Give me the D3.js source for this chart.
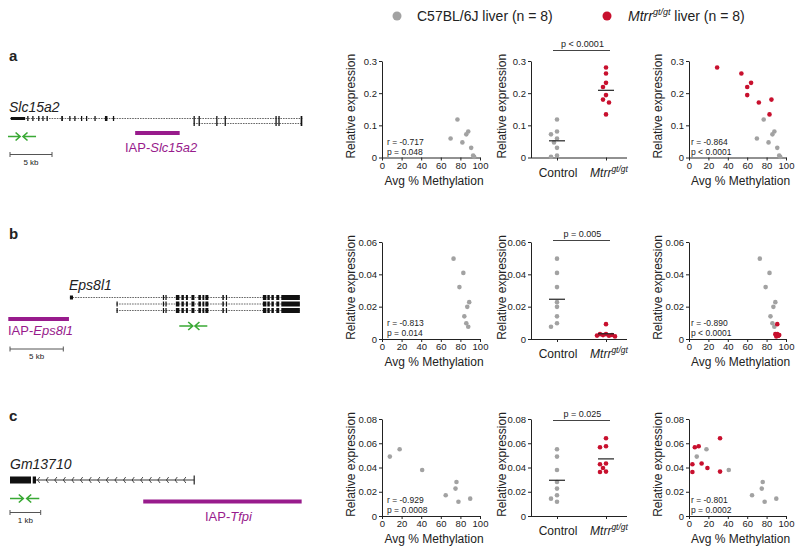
<!DOCTYPE html>
<html><head><meta charset="utf-8">
<script src="https://cdn.jsdelivr.net/npm/d3@7"></script>
<style>
body{margin:0;background:#fff}
svg{display:block;font-family:"Liberation Sans",Arial,Helvetica,sans-serif}
</style>
</head><body>
<svg id="c" width="800" height="554"></svg>
<script>
// ================= DATA =================
const groups = ["Control", "Mtrr"];
const methTicks = [0, 20, 40, 60, 80, 100];

// a: Slc15a2
const aCtrlMeth = [77, 88, 86, 70, 82, 91, 93, 94];
const aCtrlExpr = [0.118, 0.081, 0.072, 0.059, 0.047, 0.030, 0.006, 0.002];
const aMutMeth  = [29, 54, 64, 60, 60, 85, 72, 83];
const aMutExpr  = [0.280, 0.261, 0.232, 0.219, 0.194, 0.180, 0.171, 0.134];
const aYTicks   = [0, 0.1, 0.2, 0.3];
const aStatsCtrl = ["r = -0.717", "p = 0.048"];
const aStatsAll  = ["r = -0.864", "p < 0.0001"];
const aGroupP    = "p < 0.0001";

// b: Eps8l1
const bCtrlMeth = [73, 83, 79, 89, 87, 84, 86, 88];
const bCtrlExpr = [0.0497, 0.0409, 0.0321, 0.0228, 0.0199, 0.0140, 0.0097, 0.0076];
const bMutMeth  = [91, 89, 90, 91, 92, 93, 90, 92];
const bMutExpr  = [0.0092, 0.0030, 0.0025, 0.0030, 0.0020, 0.0024, 0.0016, 0.0021];
const bYTicks   = [0, 0.02, 0.04, 0.06];
const bStatsCtrl = ["r = -0.813", "p = 0.014"];
const bStatsAll  = ["r = -0.890", "p < 0.0001"];
const bGroupP    = "p = 0.005";

// c: Gm13710
const cCtrlMeth = [8, 18, 41, 76, 75, 65, 78, 90];
const cCtrlExpr = [0.049, 0.055, 0.038, 0.028, 0.0226, 0.0171, 0.0118, 0.0143];
const cMutMeth  = [3.5, 3.5, 6, 10, 13, 19, 32, 32];
const cMutExpr  = [0.0427, 0.0363, 0.0567, 0.0575, 0.0433, 0.0396, 0.0641, 0.0366];
const cYTicks   = [0, 0.02, 0.04, 0.06, 0.08];
const cStatsCtrl = ["r = -0.929", "p = 0.0008"];
const cStatsAll  = ["r = -0.801", "p = 0.0002"];
const cGroupP    = "p = 0.025";

// gene models (kb)
const slcFirstExon = [0.1, 1.8];
const slcExons = [[2.05,2.2],[2.65,2.8],[3.35,3.5],[3.85,4.0],[4.35,4.5],[6.1,6.3],[7.05,7.2],[7.65,7.8],[8.45,8.6],[9.05,9.2],[10.05,10.2],[11.3,11.6],[12.25,12.4],[21.85,22.0],[22.45,22.6],[24.55,24.7],[25.55,25.7],[31.6,31.75],[31.95,32.1],[34.6,34.8]];
const slcTx1 = [0, 34.8];
const slcTx2 = [21.85, 34.8];
const slcIap = [14.9, 20.2];
const slcPrimers = [[-0.24, 1.2], [1.55, 3.1]];

const epsFirstExon = [5.62, 5.91];
const epsExons = [[14.34,14.44],[14.58,14.67],[15.56,15.89],[16.08,16.31],[16.5,16.69],[17.02,17.3],[17.67,17.91],[18.05,18.23],[18.33,18.61],[19.92,20.06],[20.25,20.34],[23.72,24.05],[24.14,24.37],[24.52,24.75],[24.98,25.26],[25.45,27.19]];
const epsTx1 = [5.62, 27.19];
const epsTx23 = [9.99, 27.19];
const epsIap = [-0.16, 5.53];
const epsPrimers = [[15.88, 17.14], [17.35, 18.51]];

const gmBlocks = [[0, 0.684], [0.74, 0.847]];
const gmIntron = [0.847, 6.0];
const gmIap = [4.34, 9.5];
const gmPrimers = [[0, 0.433], [0.544, 0.954]];

// ================= DRAW =================
const svg = d3.select("#c");
const GREY = "#a2a2a2", RED = "#c8102e", INK = "#222", PURPLE = "#981b8c", GREEN = "#3aa935";
const R = 2.3;

// legend
svg.append("circle").attr("cx", 397).attr("cy", 16).attr("r", 4.5).attr("fill", GREY);
svg.append("text").attr("x", 417).attr("y", 21).attr("font-size", 14).attr("fill", INK).text("C57BL/6J liver (n = 8)");
svg.append("circle").attr("cx", 607).attr("cy", 16).attr("r", 4.5).attr("fill", RED);
const lt = svg.append("text").attr("x", 628).attr("y", 21).attr("font-size", 14).attr("fill", INK);
lt.append("tspan").attr("font-style", "italic").text("Mtrr");
lt.append("tspan").attr("font-style", "italic").attr("font-size", 9).attr("dy", -6).text("gt/gt");
lt.append("tspan").attr("dy", 6).text(" liver (n = 8)");

const fmtY = d => d === 0 ? "0" : d3.format(".2~f")(d);

function styleAxis(g) {
  g.attr("font-family", null).attr("font-size", null);
  g.selectAll("path,line").attr("stroke", INK).attr("stroke-width", 1);
  g.selectAll("text").attr("font-size", 9.5).attr("fill", INK);
}

function yAxisTitle(g, x, cy) {
  g.append("text").attr("transform", `translate(${x},${cy}) rotate(-90)`)
    .attr("text-anchor", "middle").attr("dy", "0.35em").attr("font-size", 12).attr("fill", INK)
    .text("Relative expression");
}

function scatterPanel(o) {
  const g = svg.append("g");
  const x = d3.scaleLinear().domain([0, 100]).range([o.x0, o.x1]);
  const y = d3.scaleLinear().domain([0, d3.max(o.yTicks)]).range([o.bottom, o.top]);
  g.append("g").attr("transform", `translate(${o.x0},0)`)
    .call(d3.axisLeft(y).tickValues(o.yTicks).tickSize(3).tickSizeOuter(0).tickPadding(2).tickFormat(fmtY))
    .call(styleAxis);
  g.append("g").attr("transform", `translate(0,${o.bottom})`)
    .call(d3.axisBottom(x).tickValues(methTicks).tickSize(3).tickSizeOuter(0).tickPadding(1.5))
    .call(styleAxis);
  o.series.forEach(s => {
    g.append("g").selectAll("circle").data(d3.zip(s.meth, s.expr)).join("circle")
      .attr("cx", d => x(d[0])).attr("cy", d => y(d[1])).attr("r", R).attr("fill", s.color);
  });
  g.append("text").attr("x", o.statX).attr("y", o.bottom - 13).attr("font-size", 8.5).attr("fill", INK).text(o.stats[0]);
  g.append("text").attr("x", o.statX).attr("y", o.bottom - 3).attr("font-size", 8.5).attr("fill", INK).text(o.stats[1]);
  g.append("text").attr("x", (o.x0 + o.x1) / 2 + 3).attr("y", o.bottom + 27).attr("text-anchor", "middle")
    .attr("font-size", 12).attr("fill", INK).text("Avg % Methylation");
  yAxisTitle(g, o.x0 - 31, (o.top + o.bottom) / 2 - 3);
}

function swarmOffsets(vals, y) {
  const idx = vals.map((v, i) => i).sort((a, b) => vals[b] - vals[a]);
  const placed = [], off = new Array(vals.length).fill(0);
  const cand = [0, -3, 3, -6, 6, -9, 9];
  idx.forEach(i => {
    const py = y(vals[i]);
    let best = 0, bestD = -1;
    for (const dx of cand) {
      const d = placed.length ? d3.min(placed, p => Math.hypot(p.x - dx, p.y - py)) : Infinity;
      if (d >= 4.6) { best = dx; bestD = Infinity; break; }
      if (d > bestD) { bestD = d; best = dx; }
    }
    off[i] = best; placed.push({ x: best, y: py });
  });
  return off;
}

function dotPanel(o) {
  const g = svg.append("g");
  const x = d3.scalePoint().domain(groups).range([557, 606]);
  const y = d3.scaleLinear().domain([0, d3.max(o.yTicks)]).range([o.bottom, o.top]);
  g.append("g").attr("transform", `translate(${o.x0},0)`)
    .call(d3.axisLeft(y).tickValues(o.yTicks).tickSize(3).tickSizeOuter(0).tickPadding(2).tickFormat(fmtY))
    .call(styleAxis);
  const xa = g.append("g").attr("transform", `translate(0,${o.bottom})`)
    .call(d3.axisBottom(x).tickSize(3).tickSizeOuter(0).tickFormat(""))
    .call(styleAxis);
  xa.select(".domain").attr("d", `M${o.x0},0.5H${o.x1}`);
  g.append("text").attr("x", x("Control") + 1).attr("y", o.bottom + 19).attr("text-anchor", "middle")
    .attr("font-size", 12).attr("fill", INK).text("Control");
  const mt = g.append("text").attr("x", x("Mtrr") + 3).attr("y", o.bottom + 19).attr("text-anchor", "middle")
    .attr("font-size", 12).attr("fill", INK).attr("font-style", "italic");
  mt.append("tspan").text("Mtrr");
  mt.append("tspan").attr("font-size", 8.5).attr("dy", -5).text("gt/gt");
  [[o.ctrl, GREY, "Control"], [o.mut, RED, "Mtrr"]].forEach(([vals, col, grp]) => {
    const off = swarmOffsets(vals, y);
    g.append("g").selectAll("circle").data(vals).join("circle")
      .attr("cx", (d, i) => x(grp) + off[i]).attr("cy", d => y(d)).attr("r", R).attr("fill", col);
    const m = d3.mean(vals);
    g.append("line").attr("x1", x(grp) - 8).attr("x2", x(grp) + 8).attr("y1", y(m)).attr("y2", y(m))
      .attr("stroke", INK).attr("stroke-width", 1.2);
  });
  g.append("line").attr("x1", x("Control") - 4).attr("x2", x("Mtrr") + 4).attr("y1", o.sigY).attr("y2", o.sigY)
    .attr("stroke", "#444").attr("stroke-width", 1);
  g.append("text").attr("x", (x("Control") + x("Mtrr")) / 2 + 1).attr("y", o.sigY - 4).attr("text-anchor", "middle")
    .attr("font-size", 9).attr("fill", INK).text(o.p);
  yAxisTitle(g, o.x0 - 29, (o.top + o.bottom) / 2 - 3);
}

const rows = [
  { top: 61, bottom: 157.5, ctrlM: aCtrlMeth, ctrlE: aCtrlExpr, mutM: aMutMeth, mutE: aMutExpr, ticks: aYTicks, s1: aStatsCtrl, s3: aStatsAll, p: aGroupP, sigY: 50.5 },
  { top: 242, bottom: 339, ctrlM: bCtrlMeth, ctrlE: bCtrlExpr, mutM: bMutMeth, mutE: bMutExpr, ticks: bYTicks, s1: bStatsCtrl, s3: bStatsAll, p: bGroupP, sigY: 240.5 },
  { top: 419, bottom: 516, ctrlM: cCtrlMeth, ctrlE: cCtrlExpr, mutM: cMutMeth, mutE: cMutExpr, ticks: cYTicks, s1: cStatsCtrl, s3: cStatsAll, p: cGroupP, sigY: 420.5 }
];

rows.forEach(r => {
  scatterPanel({ x0: 382, x1: 480, top: r.top, bottom: r.bottom, yTicks: r.ticks, statX: 387, stats: r.s1,
    series: [{ meth: r.ctrlM, expr: r.ctrlE, color: GREY }] });
  dotPanel({ x0: 531, x1: 627, top: r.top, bottom: r.bottom, yTicks: r.ticks, ctrl: r.ctrlE, mut: r.mutE, p: r.p, sigY: r.sigY });
  scatterPanel({ x0: 689, x1: 786, top: r.top, bottom: r.bottom, yTicks: r.ticks, statX: 691, stats: r.s3,
    series: [{ meth: r.ctrlM, expr: r.ctrlE, color: GREY }, { meth: r.mutM, expr: r.mutE, color: RED }] });
});

// panel letters
[["a", 61], ["b", 239], ["c", 421]].forEach(([t, yb]) =>
  svg.append("text").attr("x", 9).attr("y", yb).attr("font-size", 15).attr("font-weight", "bold").attr("fill", INK).text(t));

// ---------- gene diagrams ----------
function primers(g, k, pr, y) {
  const [f, r] = pr;
  const xf0 = k(f[0]), xf1 = k(f[1]), xr0 = k(r[0]), xr1 = k(r[1]);
  g.append("path").attr("d", `M${xf0},${y}H${xf1}M${xf1 - 4.5},${y - 4}L${xf1},${y}L${xf1 - 4.5},${y + 4}`)
    .attr("fill", "none").attr("stroke", GREEN).attr("stroke-width", 1.6);
  g.append("path").attr("d", `M${xr1},${y}H${xr0}M${xr0 + 4.5},${y - 4}L${xr0},${y}L${xr0 + 4.5},${y + 4}`)
    .attr("fill", "none").attr("stroke", GREEN).attr("stroke-width", 1.6);
}
function scaleBar(g, k, len, y, label) {
  const x0 = k(0), x1 = k(len);
  g.append("path").attr("d", `M${x0},${y}H${x1}M${x0},${y - 2.5}V${y + 2.5}M${x1},${y - 2.5}V${y + 2.5}`)
    .attr("stroke", "#555").attr("stroke-width", 1).attr("fill", "none");
  g.append("text").attr("x", (x0 + x1) / 2).attr("y", y + 10).attr("text-anchor", "middle")
    .attr("font-size", 8).attr("fill", INK).text(label);
}
function iap(g, k, span, y, lx, ly, name) {
  g.append("line").attr("x1", k(span[0])).attr("x2", k(span[1])).attr("y1", y).attr("y2", y)
    .attr("stroke", PURPLE).attr("stroke-width", 4);
  const t = g.append("text").attr("x", lx).attr("y", ly).attr("font-size", 13).attr("fill", PURPLE);
  t.append("tspan").text("IAP-");
  t.append("tspan").attr("font-style", "italic").text(name);
}
function geneName(g, x, y, name) {
  g.append("text").attr("x", x).attr("y", y).attr("font-size", 14).attr("font-style", "italic").attr("fill", INK).text(name);
}
function intron(g, k, span, y) {
  g.append("line").attr("x1", k(span[0])).attr("x2", k(span[1])).attr("y1", y).attr("y2", y)
    .attr("stroke", "#555").attr("stroke-width", 0.9).attr("stroke-dasharray", "1.6,1");
}
function exons(g, k, list, y, h) {
  g.append("g").selectAll("rect").data(list).join("rect")
    .attr("x", d => k(d[0])).attr("width", d => Math.max(1.2, k(d[1]) - k(d[0])))
    .attr("y", y - h / 2).attr("height", h).attr("fill", "#111");
}

// a
{
  const g = svg.append("g");
  const k = d3.scaleLinear().domain([0, 5]).range([10, 52]);
  geneName(g, 9, 112, "Slc15a2");
  intron(g, k, slcTx1, 118.5);
  intron(g, k, slcTx2, 123.5);
  exons(g, k, [slcFirstExon], 118.5, 3);
  exons(g, k, slcExons, 118.5, 5);
  exons(g, k, slcExons.filter(e => e[0] >= slcTx2[0]), 123.5, 5);
  primers(g, k, slcPrimers, 136.5);
  scaleBar(g, k, 5, 154.5, "5 kb");
  iap(g, k, slcIap, 133, 125, 151.5, "Slc15a2");
}
// b
{
  const g = svg.append("g");
  const k = d3.scaleLinear().domain([0, 5]).range([10, 63.3]);
  geneName(g, 69, 289.5, "Eps8l1");
  intron(g, k, epsTx1, 297.5);
  intron(g, k, epsTx23, 304);
  intron(g, k, epsTx23, 310.5);
  exons(g, k, [epsFirstExon], 297.5, 4);
  exons(g, k, epsExons, 297.5, 5);
  exons(g, k, [[epsTx23[0], epsTx23[0] + 0.05]].concat(epsExons), 304, 5);
  exons(g, k, [[epsTx23[0], epsTx23[0] + 0.05]].concat(epsExons), 310.5, 5);
  primers(g, k, epsPrimers, 326);
  scaleBar(g, k, 5, 349, "5 kb");
  iap(g, k, epsIap, 319, 8, 334.5, "Eps8l1");
}
// c
{
  const g = svg.append("g");
  const k = d3.scaleLinear().domain([0, 1]).range([10, 40.7]);
  const y0 = 480;
  geneName(g, 10, 469, "Gm13710");
  g.append("line").attr("x1", k(gmIntron[0])).attr("x2", k(gmIntron[1])).attr("y1", y0).attr("y2", y0)
    .attr("stroke", INK).attr("stroke-width", 0.9);
  g.append("line").attr("x1", k(gmIntron[1])).attr("x2", k(gmIntron[1])).attr("y1", y0 - 4.5).attr("y2", y0 + 4.5)
    .attr("stroke", INK).attr("stroke-width", 1.2);
  const chev = d3.range(gmIntron[0] + 0.05, gmIntron[1] - 0.2, 0.28);
  g.append("g").selectAll("path").data(chev).join("path")
    .attr("d", d => `M${k(d) + 2.2},${y0 - 3}L${k(d)},${y0}L${k(d) + 2.2},${y0 + 3}`)
    .attr("fill", "none").attr("stroke", INK).attr("stroke-width", 0.8);
  exons(g, k, gmBlocks, y0, 7);
  primers(g, k, gmPrimers, 498.5);
  scaleBar(g, k, 1, 512.5, "1 kb");
  iap(g, k, gmIap, 501.5, 205, 521, "Tfpi");
}
</script>
</body></html>
